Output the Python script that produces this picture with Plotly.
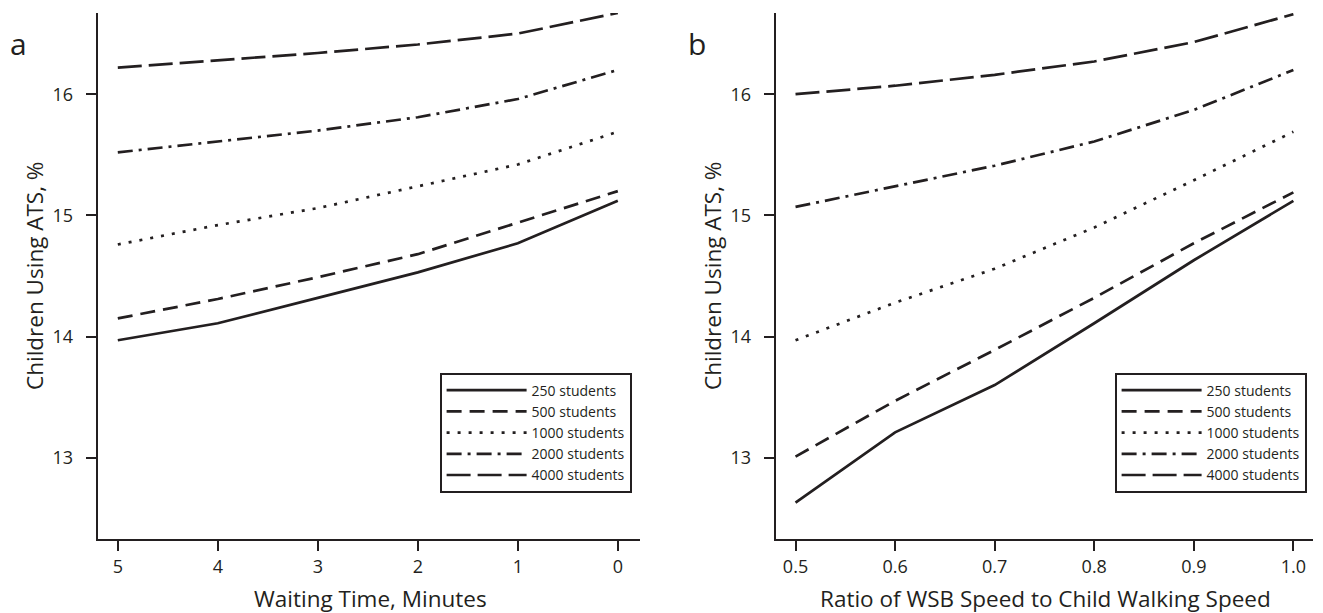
import plotly.graph_objects as go

# ---------------- data ----------------
wait_minutes = [5, 4, 3, 2, 1, 0]
speed_ratio = [0.5, 0.6, 0.7, 0.8, 0.9, 1.0]

series_names = ["250 students", "500 students", "1000 students", "2000 students", "4000 students"]

# Panel a: waiting time
a_250 = [13.97, 14.11, 14.32, 14.53, 14.77, 15.12]
a_500 = [14.15, 14.31, 14.49, 14.68, 14.94, 15.20]
a_1000 = [14.76, 14.92, 15.06, 15.24, 15.42, 15.69]
a_2000 = [15.52, 15.61, 15.70, 15.81, 15.96, 16.20]
a_4000 = [16.22, 16.28, 16.34, 16.41, 16.50, 16.67]

# Panel b: speed ratio
b_250 = [12.63, 13.21, 13.60, 14.11, 14.63, 15.12]
b_500 = [13.01, 13.47, 13.89, 14.32, 14.77, 15.19]
b_1000 = [13.97, 14.28, 14.56, 14.90, 15.29, 15.69]
b_2000 = [15.07, 15.24, 15.41, 15.61, 15.87, 16.20]
b_4000 = [16.00, 16.07, 16.16, 16.27, 16.43, 16.66]

y_ticks = [13, 14, 15, 16]
x_ticks_a = [5, 4, 3, 2, 1, 0]
x_ticks_b = [0.5, 0.6, 0.7, 0.8, 0.9, 1.0]
x_ticktext_b = ["0.5", "0.6", "0.7", "0.8", "0.9", "1.0"]

# ---------------- style ----------------
W, H = 1323, 613
INK = "#231f20"
FONT = "Open Sans"
dashes = ["solid", "15px,8px", "3px,8px", "15px,6px,3px,6px", "24px,7px"]
LW = 2.7

fig = go.Figure()

for name, ys, d in zip(series_names, [a_250, a_500, a_1000, a_2000, a_4000], dashes):
    fig.add_trace(go.Scatter(x=wait_minutes, y=ys, mode="lines", name=name,
                             line=dict(color=INK, width=LW, dash=d),
                             xaxis="x", yaxis="y", legend="legend"))
for name, ys, d in zip(series_names, [b_250, b_500, b_1000, b_2000, b_4000], dashes):
    fig.add_trace(go.Scatter(x=speed_ratio, y=ys, mode="lines", name=name,
                             line=dict(color=INK, width=LW, dash=d),
                             xaxis="x2", yaxis="y2", legend="legend2"))

def px_x(p):
    return p / W

def px_y(p):
    return 1 - p / H

y_dom = [px_y(539), px_y(13)]
axis_common = dict(showline=True, linecolor=INK, linewidth=2, ticks="outside",
                   ticklen=10, tickwidth=1.6, tickcolor=INK, showgrid=False,
                   zeroline=False, tickfont=dict(family=FONT, size=18, color=INK))

legend_common = dict(yanchor="top", xanchor="left", bgcolor="white", bordercolor=INK,
                     borderwidth=1.6, font=dict(family=FONT, size=14, color=INK),
                     itemwidth=80, tracegroupgap=0)

fig.update_layout(
    width=W, height=H,
    margin=dict(l=0, r=0, t=0, b=0),
    paper_bgcolor="white", plot_bgcolor="white",
    font=dict(family=FONT, color=INK),
    xaxis=dict(domain=[px_x(97.6), px_x(640)], range=[5.202, -0.222],
               tickvals=x_ticks_a, anchor="y", **axis_common),
    yaxis=dict(domain=y_dom, range=[12.33, 16.67], tickvals=y_ticks,
               anchor="x", ticklabelstandoff=9, **axis_common),
    xaxis2=dict(domain=[px_x(775.7), px_x(1313)], range=[0.4801, 1.0197],
                tickvals=x_ticks_b, ticktext=x_ticktext_b, anchor="y2", **axis_common),
    yaxis2=dict(domain=y_dom, range=[12.33, 16.67], tickvals=y_ticks,
                anchor="x2", ticklabelstandoff=9, **axis_common),
    legend=dict(x=px_x(440), y=px_y(373), **legend_common),
    legend2=dict(x=px_x(1115), y=px_y(373), **legend_common),
    showlegend=True,
)

annots = [
    dict(text="a", x=px_x(18), y=px_y(44), font=dict(size=30)),
    dict(text="b", x=px_x(697), y=px_y(44), font=dict(size=30)),
    dict(text="Waiting Time, Minutes", x=px_x(370), y=px_y(598), font=dict(size=22.5)),
    dict(text="Ratio of WSB Speed to Child Walking Speed", x=px_x(1045), y=px_y(598), font=dict(size=22.5)),
    dict(text="Children Using ATS, %", x=px_x(34), y=px_y(276), textangle=-90, font=dict(size=22.5)),
    dict(text="Children Using ATS, %", x=px_x(712), y=px_y(276), textangle=-90, font=dict(size=22.5)),
]
for a in annots:
    a.update(xref="paper", yref="paper", showarrow=False, xanchor="center", yanchor="middle")
    a["font"].update(family=FONT, color=INK)
    fig.add_annotation(**a)

fig.write_html("out.html")
